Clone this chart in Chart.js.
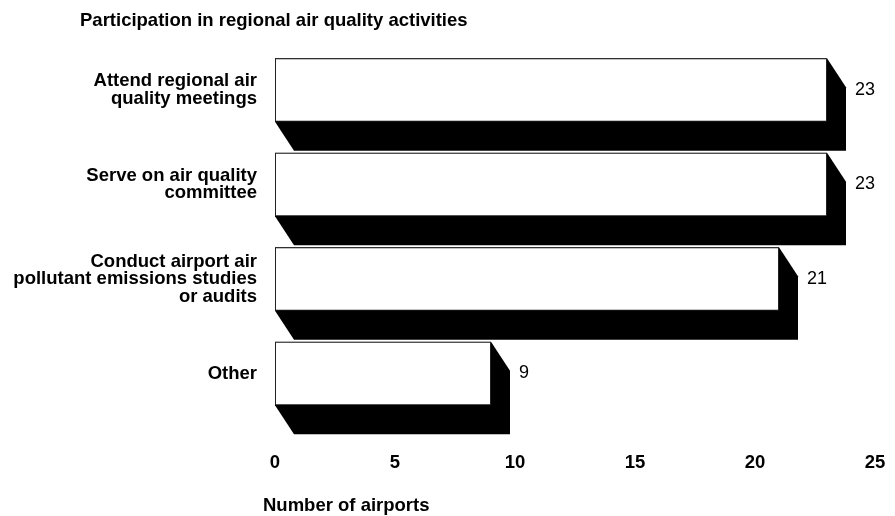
<!DOCTYPE html>
<html>
<head>
<meta charset="utf-8">
<script src="https://cdn.jsdelivr.net/npm/chart.js@4.4.1/dist/chart.umd.min.js"></script>
<style>
html, body { margin: 0; padding: 0; background: #fff; }
</style>
</head>
<body>
<canvas id="myChart" width="895" height="516"></canvas>
<script>
// data
var categories = [
    ['Attend regional air', 'quality meetings'],
    ['Serve on air quality', 'committee'],
    ['Conduct airport air', 'pollutant emissions studies', 'or audits'],
    'Other'
];
var airports = [23, 23, 21, 9];
var xTicks = [0, 5, 10, 15, 20, 25];
var chartTitle = 'Participation in regional air quality activities';
var xTitle = 'Number of airports';

const FONT = "'Liberation Sans', Arial, sans-serif";
const DEPTH_X = 19;
const DEPTH_Y = 29;

// black extruded "3D" block behind each bar, plus value labels and titles
const depthPlugin = {
    id: 'depth',
    beforeDatasetsDraw: function(chart) {
        const ctx = chart.ctx;
        const meta = chart.getDatasetMeta(0);
        ctx.save();
        ctx.fillStyle = '#000';
        for (const bar of meta.data) {
            const L = bar.base, R = bar.x;
            const T = bar.y - bar.height / 2, B = bar.y + bar.height / 2;
            ctx.beginPath();
            ctx.moveTo(L, T);
            ctx.lineTo(R, T);
            ctx.lineTo(R + DEPTH_X, T + DEPTH_Y);
            ctx.lineTo(R + DEPTH_X, B + DEPTH_Y);
            ctx.lineTo(L + DEPTH_X, B + DEPTH_Y);
            ctx.lineTo(L, B);
            ctx.closePath();
            ctx.fill();
        }
        ctx.restore();
    },
    afterDatasetsDraw: function(chart) {
        const ctx = chart.ctx;
        const meta = chart.getDatasetMeta(0);
        ctx.save();
        ctx.fillStyle = '#000';
        ctx.font = '18px ' + FONT;
        ctx.textAlign = 'left';
        ctx.textBaseline = 'middle';
        meta.data.forEach(function(bar, i) {
            ctx.fillText(String(airports[i]), bar.x + DEPTH_X + 9, bar.y);
        });
        ctx.restore();
    },
    afterDraw: function(chart) {
        const ctx = chart.ctx;
        ctx.save();
        ctx.fillStyle = '#000';
        ctx.font = 'bold 18.5px ' + FONT;
        ctx.textAlign = 'left';
        ctx.textBaseline = 'alphabetic';
        ctx.fillText(chartTitle, 80, 25.5);
        ctx.fillText(xTitle, 263, 510.5);
        ctx.restore();
    }
};

const ctx = document.getElementById('myChart');
const myChart = new Chart(ctx, {
    type: 'bar',
    data: {
        labels: categories,
        datasets: [{
            data: airports,
            backgroundColor: '#fff',
            borderColor: '#222',
            borderWidth: 1,
            borderSkipped: false,
            barPercentage: 0.672,
            categoryPercentage: 1
        }]
    },
    options: {
        indexAxis: 'y',
        responsive: false,
        animation: false,
        devicePixelRatio: 1,
        layout: {
            padding: { top: 42.75, right: 20, bottom: 0, left: 0 }
        },
        plugins: {
            legend: { display: false },
            tooltip: { enabled: false },
            title: { display: false }
        },
        scales: {
            x: {
                min: 0,
                max: 25,
                afterBuildTicks: function(scale) {
                    scale.ticks = xTicks.map(function(v) { return { value: v }; });
                },
                afterFit: function(scale) {
                    scale.height = 95.25;
                    scale.paddingLeft = 0;
                    scale.paddingRight = 0;
                },
                grid: { display: false, drawTicks: false },
                border: { display: false },
                ticks: {
                    padding: 31,
                    color: '#000',
                    maxRotation: 0,
                    font: { family: FONT, size: 18.5, weight: 'bold' }
                }
            },
            y: {
                afterFit: function(scale) {
                    scale.width = 275;
                    scale.paddingTop = 0;
                    scale.paddingBottom = 0;
                },
                grid: { display: false, drawTicks: false },
                border: { display: false },
                ticks: {
                    padding: 18,
                    color: '#000',
                    font: { family: FONT, size: 18.5, weight: 'bold', lineHeight: 0.95 }
                }
            }
        }
    },
    plugins: [depthPlugin]
});
</script>
</body>
</html>
